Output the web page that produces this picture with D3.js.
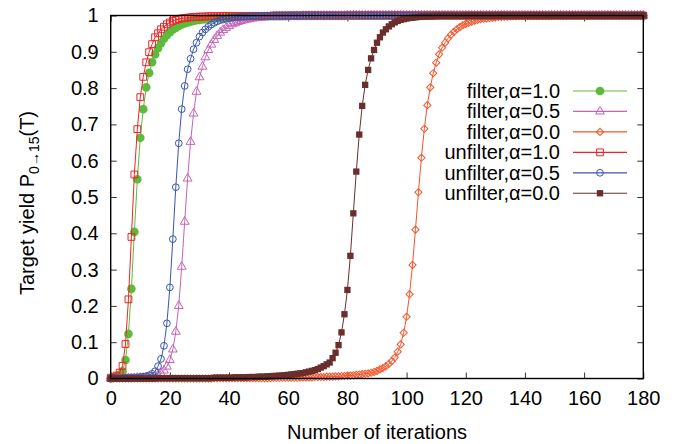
<!DOCTYPE html>
<html>
<head>
<meta charset="utf-8">
<script src="https://d3js.org/d3.v7.min.js"></script>
<style>
  body { margin: 0; background: #fff; }
  svg text { font-family: "Liberation Sans", Arial, Helvetica, sans-serif; fill: #000; }
  .tick line { stroke: #333; }
</style>
</head>
<body>
<svg id="chart" width="679" height="444"></svg>
<script>
// iteration numbers 0..180 (one point per iteration)
var iterations = d3.range(0, 181);

var xTicks = [0, 20, 40, 60, 80, 100, 120, 140, 160, 180];
var yTicks = [0, 0.1, 0.2, 0.3, 0.4, 0.5, 0.6, 0.7, 0.8, 0.9, 1];
var yTickLabels = ["0", "0.1", "0.2", "0.3", "0.4", "0.5", "0.6", "0.7", "0.8", "0.9", "1"];

var seriesNames = ["filter,\u03b1=1.0", "filter,\u03b1=0.5", "filter,\u03b1=0.0",
                   "unfilter,\u03b1=1.0", "unfilter,\u03b1=0.5", "unfilter,\u03b1=0.0"];

var filter10 = [
  0, 0.002, 0.005, 0.01, 0.02, 0.051, 0.123, 0.247, 0.404, 0.549,
  0.663, 0.742, 0.802, 0.842, 0.871, 0.893, 0.91, 0.924, 0.936, 0.946,
  0.954, 0.961, 0.966, 0.971, 0.975, 0.978, 0.981, 0.983, 0.985, 0.987,
  0.988, 0.989, 0.99, 0.991, 0.992, 0.993, 0.993, 0.994, 0.994, 0.995,
  0.995, 0.995, 0.996, 0.996, 0.996, 0.996, 0.997, 0.997, 0.997, 0.997,
  0.997, 0.998, 0.998, 0.998, 0.998, 0.998, 0.998, 0.998, 0.998, 0.998,
  0.999, 0.999, 0.999, 0.999, 0.999, 0.999, 0.999, 0.999, 0.999, 0.999,
  0.999, 0.999, 0.999, 0.999, 0.999, 0.999, 0.999, 0.999, 0.999, 0.999,
  1, 1, 1, 1, 1, 1, 1, 1, 1, 1,
  1, 1, 1, 1, 1, 1, 1, 1, 1, 1,
  1, 1, 1, 1, 1, 1, 1, 1, 1, 1,
  1, 1, 1, 1, 1, 1, 1, 1, 1, 1,
  1, 1, 1, 1, 1, 1, 1, 1, 1, 1,
  1, 1, 1, 1, 1, 1, 1, 1, 1, 1,
  1, 1, 1, 1, 1, 1, 1, 1, 1, 1,
  1, 1, 1, 1, 1, 1, 1, 1, 1, 1,
  1, 1, 1, 1, 1, 1, 1, 1, 1, 1,
  1, 1, 1, 1, 1, 1, 1, 1, 1, 1,
  1
];

var filter05 = [
  0, 0, 0.001, 0.001, 0.001, 0.001, 0.001, 0.001, 0.001, 0.002,
  0.002, 0.002, 0.003, 0.003, 0.004, 0.006, 0.009, 0.014, 0.022, 0.033,
  0.051, 0.08, 0.129, 0.2, 0.308, 0.432, 0.551, 0.652, 0.73, 0.79,
  0.83, 0.859, 0.885, 0.905, 0.92, 0.933, 0.944, 0.953, 0.96, 0.966,
  0.971, 0.976, 0.979, 0.982, 0.985, 0.987, 0.989, 0.99, 0.992, 0.993,
  0.994, 0.995, 0.995, 0.996, 0.996, 0.997, 0.997, 0.997, 0.998, 0.998,
  0.998, 0.998, 0.998, 0.998, 0.998, 0.999, 0.999, 0.999, 0.999, 0.999,
  0.999, 0.999, 0.999, 0.999, 0.999, 0.999, 0.999, 0.999, 0.999, 0.999,
  1, 1, 1, 1, 1, 1, 1, 1, 1, 1,
  1, 1, 1, 1, 1, 1, 1, 1, 1, 1,
  1, 1, 1, 1, 1, 1, 1, 1, 1, 1,
  1, 1, 1, 1, 1, 1, 1, 1, 1, 1,
  1, 1, 1, 1, 1, 1, 1, 1, 1, 1,
  1, 1, 1, 1, 1, 1, 1, 1, 1, 1,
  1, 1, 1, 1, 1, 1, 1, 1, 1, 1,
  1, 1, 1, 1, 1, 1, 1, 1, 1, 1,
  1, 1, 1, 1, 1, 1, 1, 1, 1, 1,
  1, 1, 1, 1, 1, 1, 1, 1, 1, 1,
  1
];

var filter00 = [
  0, 0, 0, 0, 0, 0, 0, 0, 0, 0,
  0, 0, 0, 0, 0, 0, 0, 0, 0, 0,
  0, 0, 0, 0, 0, 0, 0, 0, 0, 0,
  0, 0, 0, 0, 0, 0.001, 0.001, 0.001, 0.001, 0.001,
  0.001, 0.001, 0.001, 0.001, 0.001, 0.001, 0.001, 0.001, 0.001, 0.001,
  0.001, 0.001, 0.001, 0.001, 0.001, 0.002, 0.002, 0.002, 0.002, 0.002,
  0.002, 0.002, 0.002, 0.002, 0.003, 0.003, 0.003, 0.003, 0.003, 0.004,
  0.004, 0.004, 0.004, 0.005, 0.005, 0.005, 0.006, 0.006, 0.007, 0.007,
  0.008, 0.008, 0.009, 0.01, 0.011, 0.012, 0.013, 0.014, 0.016, 0.018,
  0.021, 0.025, 0.029, 0.034, 0.04, 0.048, 0.058, 0.074, 0.094, 0.126,
  0.17, 0.232, 0.313, 0.41, 0.513, 0.608, 0.688, 0.753, 0.802, 0.841,
  0.87, 0.893, 0.911, 0.925, 0.937, 0.947, 0.955, 0.962, 0.968, 0.973,
  0.977, 0.98, 0.983, 0.986, 0.988, 0.99, 0.991, 0.992, 0.993, 0.994,
  0.995, 0.996, 0.996, 0.997, 0.997, 0.998, 0.998, 0.998, 0.999, 0.999,
  0.999, 0.999, 0.999, 0.999, 0.999, 0.999, 0.999, 0.999, 0.999, 0.999,
  1, 1, 1, 1, 1, 1, 1, 1, 1, 1,
  1, 1, 1, 1, 1, 1, 1, 1, 1, 1,
  1, 1, 1, 1, 1, 1, 1, 1, 1, 1,
  1
];

var unfilter10 = [
  0.002, 0.004, 0.008, 0.016, 0.035, 0.095, 0.218, 0.39, 0.562, 0.687,
  0.775, 0.831, 0.871, 0.899, 0.921, 0.94, 0.951, 0.962, 0.969, 0.976,
  0.981, 0.985, 0.988, 0.99, 0.992, 0.993, 0.994, 0.995, 0.996, 0.996,
  0.997, 0.997, 0.997, 0.998, 0.998, 0.998, 0.998, 0.998, 0.999, 0.999,
  0.999, 0.999, 0.999, 0.999, 0.999, 0.999, 0.999, 0.999, 0.999, 0.999,
  0.999, 0.999, 0.999, 0.999, 0.999, 1, 1, 1, 1, 1,
  1, 1, 1, 1, 1, 1, 1, 1, 1, 1,
  1, 1, 1, 1, 1, 1, 1, 1, 1, 1,
  1, 1, 1, 1, 1, 1, 1, 1, 1, 1,
  1, 1, 1, 1, 1, 1, 1, 1, 1, 1,
  1, 1, 1, 1, 1, 1, 1, 1, 1, 1,
  1, 1, 1, 1, 1, 1, 1, 1, 1, 1,
  1, 1, 1, 1, 1, 1, 1, 1, 1, 1,
  1, 1, 1, 1, 1, 1, 1, 1, 1, 1,
  1, 1, 1, 1, 1, 1, 1, 1, 1, 1,
  1, 1, 1, 1, 1, 1, 1, 1, 1, 1,
  1, 1, 1, 1, 1, 1, 1, 1, 1, 1,
  1, 1, 1, 1, 1, 1, 1, 1, 1, 1,
  1
];

var unfilter05 = [
  0, 0.001, 0.001, 0.001, 0.001, 0.002, 0.002, 0.002, 0.003, 0.003,
  0.004, 0.005, 0.006, 0.009, 0.013, 0.02, 0.034, 0.054, 0.09, 0.152,
  0.251, 0.384, 0.527, 0.648, 0.742, 0.806, 0.852, 0.881, 0.907, 0.925,
  0.942, 0.953, 0.962, 0.969, 0.975, 0.98, 0.984, 0.987, 0.989, 0.991,
  0.993, 0.994, 0.995, 0.996, 0.996, 0.997, 0.997, 0.998, 0.998, 0.998,
  0.999, 0.999, 0.999, 0.999, 0.999, 0.999, 0.999, 0.999, 0.999, 0.999,
  0.999, 0.999, 0.999, 0.999, 0.999, 1, 1, 1, 1, 1,
  1, 1, 1, 1, 1, 1, 1, 1, 1, 1,
  1, 1, 1, 1, 1, 1, 1, 1, 1, 1,
  1, 1, 1, 1, 1, 1, 1, 1, 1, 1,
  1, 1, 1, 1, 1, 1, 1, 1, 1, 1,
  1, 1, 1, 1, 1, 1, 1, 1, 1, 1,
  1, 1, 1, 1, 1, 1, 1, 1, 1, 1,
  1, 1, 1, 1, 1, 1, 1, 1, 1, 1,
  1, 1, 1, 1, 1, 1, 1, 1, 1, 1,
  1, 1, 1, 1, 1, 1, 1, 1, 1, 1,
  1, 1, 1, 1, 1, 1, 1, 1, 1, 1,
  1, 1, 1, 1, 1, 1, 1, 1, 1, 1,
  1
];

var unfilter00 = [
  0, 0, 0, 0, 0, 0, 0, 0, 0, 0,
  0, 0, 0, 0, 0, 0, 0.001, 0.001, 0.001, 0.001,
  0.001, 0.001, 0.001, 0.001, 0.001, 0.001, 0.001, 0.001, 0.001, 0.001,
  0.001, 0.001, 0.001, 0.001, 0.001, 0.002, 0.002, 0.002, 0.002, 0.002,
  0.002, 0.002, 0.003, 0.003, 0.003, 0.003, 0.003, 0.004, 0.004, 0.004,
  0.005, 0.005, 0.005, 0.006, 0.006, 0.007, 0.007, 0.008, 0.008, 0.009,
  0.01, 0.011, 0.012, 0.013, 0.014, 0.015, 0.017, 0.019, 0.021, 0.023,
  0.026, 0.03, 0.034, 0.039, 0.044, 0.056, 0.071, 0.092, 0.127, 0.177,
  0.244, 0.338, 0.455, 0.57, 0.672, 0.751, 0.809, 0.85, 0.882, 0.905,
  0.925, 0.94, 0.953, 0.962, 0.97, 0.976, 0.981, 0.985, 0.988, 0.99,
  0.992, 0.993, 0.994, 0.995, 0.996, 0.997, 0.997, 0.998, 0.998, 0.998,
  0.999, 0.999, 0.999, 0.999, 0.999, 0.999, 0.999, 0.999, 0.999, 0.999,
  1, 1, 1, 1, 1, 1, 1, 1, 1, 1,
  1, 1, 1, 1, 1, 1, 1, 1, 1, 1,
  1, 1, 1, 1, 1, 1, 1, 1, 1, 1,
  1, 1, 1, 1, 1, 1, 1, 1, 1, 1,
  1, 1, 1, 1, 1, 1, 1, 1, 1, 1,
  1, 1, 1, 1, 1, 1, 1, 1, 1, 1,
  1
];

var seriesValues = [filter10, filter05, filter00, unfilter10, unfilter05, unfilter00];

// styles, kept apart from the data
var colors = ["#5dbb3c", "#c463b6", "#f4552a", "#ee2428", "#3856ad", "#6a2f2c"];
var markers = [
  { type: d3.symbolCircle, size: 58, fill: true, rot: 0 },
  { type: d3.symbolTriangle, size: 34, fill: false, rot: 0 },
  { type: d3.symbolSquare, size: 26, fill: false, rot: 45 },
  { type: d3.symbolSquare, size: 46, fill: false, rot: 0 },
  { type: d3.symbolCircle, size: 36, fill: false, rot: 0 },
  { type: d3.symbolSquare, size: 40, fill: true, rot: 0 }
];

var svg = d3.select("#chart");

var x = d3.scaleLinear().domain([0, 180]).range([110.7, 643.3]);
var y = d3.scaleLinear().domain([0, 1]).range([378.5, 15.5]);

// axes with inward ticks on all four sides
svg.append("g")
  .attr("transform", "translate(0," + y(0) + ")")
  .call(d3.axisBottom(x).tickValues(xTicks).tickSizeInner(-6).tickSizeOuter(0).tickPadding(12))
  .call(function(g) { g.select(".domain").remove(); })
  .selectAll("text").style("font-size", "20px");

svg.append("g")
  .attr("transform", "translate(0," + y(1) + ")")
  .call(d3.axisTop(x).tickValues(xTicks).tickSizeInner(-6).tickSizeOuter(0).tickFormat(""))
  .call(function(g) { g.select(".domain").remove(); });

svg.append("g")
  .attr("transform", "translate(" + x(0) + ",0)")
  .call(d3.axisLeft(y).tickValues(yTicks).tickSizeInner(-6).tickSizeOuter(0).tickPadding(12)
    .tickFormat(function(d, i) { return yTickLabels[i]; }))
  .call(function(g) { g.select(".domain").remove(); })
  .selectAll("text").style("font-size", "20px");

svg.append("g")
  .attr("transform", "translate(" + x(180) + ",0)")
  .call(d3.axisRight(y).tickValues(yTicks).tickSizeInner(-6).tickSizeOuter(0).tickFormat(""))
  .call(function(g) { g.select(".domain").remove(); });

svg.selectAll(".tick text").attr("fill", "#000");

// series
var line = d3.line()
  .x(function(d) { return x(d[0]); })
  .y(function(d) { return y(d[1]); });

function drawMarker(sel, k) {
  var m = markers[k];
  sel.attr("d", d3.symbol().type(m.type).size(m.size))
    .attr("fill", m.fill ? colors[k] : "none")
    .attr("stroke", colors[k])
    .attr("stroke-width", m.fill ? 0 : 1);
}

seriesValues.forEach(function(vals, k) {
  var pts = iterations.map(function(it, i) { return [it, vals[i]]; });
  var g = svg.append("g");
  g.append("path")
    .datum(pts)
    .attr("d", line)
    .attr("fill", "none")
    .attr("stroke", colors[k])
    .attr("stroke-width", 1);
  g.selectAll("path.pt")
    .data(pts)
    .enter().append("path")
    .attr("class", "pt")
    .attr("transform", function(d) {
      return "translate(" + x(d[0]) + "," + y(d[1]) + ") rotate(" + markers[k].rot + ")";
    })
    .call(drawMarker, k);
});

// frame
svg.append("rect")
  .attr("x", x(0)).attr("y", y(1))
  .attr("width", x(180) - x(0)).attr("height", y(0) - y(1))
  .attr("fill", "none").attr("stroke", "#000").attr("stroke-width", 1.4);

// legend
var legend = svg.append("g");
seriesNames.forEach(function(name, k) {
  var ly = 91 + k * 20.45;
  legend.append("text")
    .attr("x", 560).attr("y", ly + 7)
    .attr("text-anchor", "end")
    .style("font-size", "20px")
    .text(name);
  legend.append("line")
    .attr("x1", 573).attr("x2", 627).attr("y1", ly).attr("y2", ly)
    .attr("stroke", colors[k]).attr("stroke-width", 1.2);
  legend.append("path")
    .attr("transform", "translate(600," + ly + ") rotate(" + markers[k].rot + ")")
    .call(drawMarker, k);
});

// axis titles
svg.append("text")
  .attr("x", (x(0) + x(180)) / 2).attr("y", 439)
  .attr("text-anchor", "middle")
  .style("font-size", "20px")
  .text("Number of iterations");

var yt = svg.append("text")
  .attr("transform", "translate(34,203) rotate(-90)")
  .attr("text-anchor", "middle")
  .style("font-size", "20px");
yt.append("tspan").text("Target yield P");
yt.append("tspan").attr("dy", 5).style("font-size", "14px").text("0\u219215");
yt.append("tspan").attr("dy", -5).text("(T)");
</script>
</body>
</html>
